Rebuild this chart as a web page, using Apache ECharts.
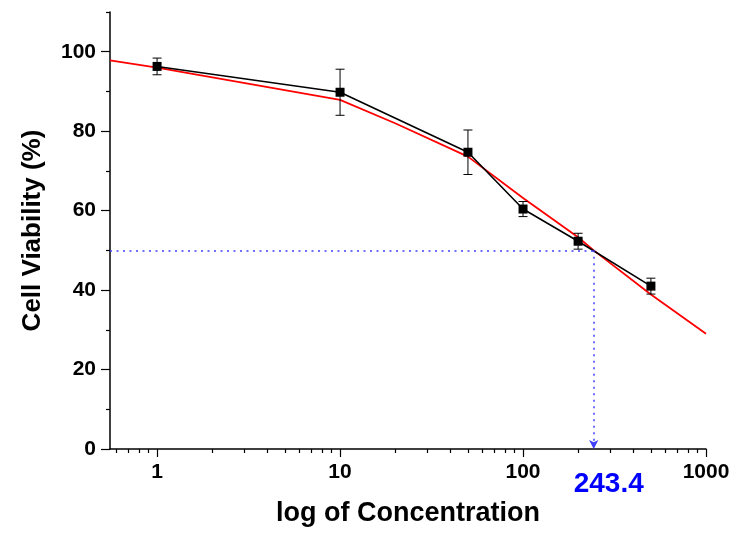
<!DOCTYPE html>
<html>
<head>
<meta charset="utf-8">
<script src="https://cdn.jsdelivr.net/npm/echarts@6/dist/echarts.min.js"></script>
<style>
  html, body { margin: 0; padding: 0; background: #fff; }
  #chart { width: 737px; height: 538px; }
</style>
</head>
<body>
<div id="chart"></div>
<script>
// measured points (mean ± sd)
const concentrations = [1, 10, 50, 100, 200, 500];
const viability = [96.3, 89.8, 74.7, 60.4, 52.3, 41.0];
const viabilitySd = [2.1, 5.8, 5.6, 1.9, 2.0, 2.0];

// fitted dose-response curve
const fitX = [0.553, 1, 10, 20, 50, 100, 200, 243.4, 500, 1000];
const fitY = [97.8, 96.0, 87.9, 82.0, 73.6, 63.2, 53.3, 50.0, 38.9, 29.0];

// axis ticks
const xMajorTicks = [1, 10, 100, 1000];
const xMinorTicks = [0.6, 0.7, 0.8, 0.9, 2, 3, 4, 5, 6, 7, 8, 9,
  20, 30, 40, 50, 60, 70, 80, 90, 200, 300, 400, 500, 600, 700, 800, 900];
const yMajorTicks = [0, 20, 40, 60, 80, 100];
const yMinorTicks = [10, 30, 50, 70, 90, 110];

const X_MIN = 0.553;
const X_MAX = 1000;
const IC50 = 243.4;
const HALF = 50;

const lg = (v) => Math.log10(v);
const FONT = '"Liberation Sans", Arial, sans-serif';
const BLUE_DOT = '#4040ff';

const chart = echarts.init(document.getElementById('chart'), null, { renderer: 'canvas' });

const xBase = {
  type: 'value',
  min: lg(X_MIN),
  max: lg(X_MAX),
  position: 'bottom',
  splitLine: { show: false },
  axisLine: { onZero: false, lineStyle: { color: '#000', width: 1.5 } },
};
const yBase = {
  type: 'value',
  min: 0,
  max: 110,
  position: 'left',
  splitLine: { show: false },
  axisLine: { onZero: false, lineStyle: { color: '#000', width: 1.5 } },
};

chart.setOption({
  animation: false,
  backgroundColor: '#fff',
  grid: { left: 110, right: 31, top: 12, bottom: 89, containLabel: false },
  xAxis: [
    {
      ...xBase,
      name: 'log of Concentration',
      nameLocation: 'middle',
      nameGap: 51,
      nameTextStyle: { color: '#000', fontSize: 27, fontWeight: 'bold', fontFamily: FONT },
      axisTick: { length: 8, lineStyle: { color: '#000', width: 1.2 }, customValues: xMajorTicks.map(lg) },
      axisLabel: {
        customValues: xMajorTicks.map(lg),
        formatter: (v) => String(Math.round(Math.pow(10, v))),
        margin: 13,
        color: '#000',
        fontSize: 21,
        fontWeight: 'bold',
        fontFamily: FONT,
      },
    },
    {
      ...xBase,
      axisLine: { show: false, onZero: false },
      axisTick: { length: 4, lineStyle: { color: '#000', width: 1.2 }, customValues: xMinorTicks.map(lg) },
      axisLabel: { show: false },
    },
  ],
  yAxis: [
    {
      ...yBase,
      name: 'Cell Viability (%)',
      nameLocation: 'middle',
      nameGap: 64,
      nameRotate: 90,
      nameTextStyle: { color: '#000', fontSize: 26, fontWeight: 'bold', fontFamily: FONT },
      axisTick: { length: 9, lineStyle: { color: '#000', width: 1.2 }, customValues: yMajorTicks },
      axisLabel: {
        customValues: yMajorTicks,
        margin: 14,
        color: '#000',
        fontSize: 21,
        fontWeight: 'bold',
        fontFamily: FONT,
      },
    },
    {
      ...yBase,
      axisLine: { show: false, onZero: false },
      axisTick: { length: 4, lineStyle: { color: '#000', width: 1.2 }, customValues: yMinorTicks },
      axisLabel: { show: false },
    },
  ],
  series: [
    {
      name: 'fit',
      type: 'line',
      data: fitX.map((x, i) => [lg(x), fitY[i]]),
      symbol: 'none',
      lineStyle: { color: '#ff0000', width: 1.8 },
      z: 2,
    },
    {
      name: 'error',
      type: 'custom',
      data: concentrations.map((c, i) => [lg(c), viability[i], viabilitySd[i]]),
      renderItem: (params, api) => {
        const x = api.value(0);
        const y = api.value(1);
        const sd = api.value(2);
        const top = api.coord([x, y + sd]);
        const bot = api.coord([x, y - sd]);
        const w = 4.5;
        const style = { stroke: '#000', lineWidth: 1 };
        return {
          type: 'group',
          children: [
            { type: 'line', shape: { x1: top[0], y1: top[1], x2: bot[0], y2: bot[1] }, style },
            { type: 'line', shape: { x1: top[0] - w, y1: top[1], x2: top[0] + w, y2: top[1] }, style },
            { type: 'line', shape: { x1: bot[0] - w, y1: bot[1], x2: bot[0] + w, y2: bot[1] }, style },
          ],
        };
      },
      z: 3,
    },
    {
      name: 'mean',
      type: 'line',
      data: concentrations.map((c, i) => [lg(c), viability[i]]),
      symbol: 'rect',
      symbolSize: 9,
      itemStyle: { color: '#000' },
      lineStyle: { color: '#000', width: 1.6 },
      z: 4,
    },
    {
      // IC50 marker: dotted guide lines + label under the axis
      name: 'ic50',
      type: 'scatter',
      data: [[lg(IC50), 0]],
      symbolSize: 0,
      silent: true,
      itemStyle: { opacity: 1 },
      label: {
        show: true,
        position: 'bottom',
        distance: 21,
        offset: [15, 0],
        formatter: String(IC50),
        color: '#0000ff',
        fontSize: 28,
        fontWeight: 'bold',
        fontFamily: FONT,
      },
      markLine: {
        silent: true,
        symbol: ['none', 'none'],
        label: { show: false },
        lineStyle: { color: BLUE_DOT, width: 1.5, type: [2, 4.5] },
        data: [
          [{ coord: [lg(X_MIN), HALF] }, { coord: [lg(IC50), HALF] }],
          [{ coord: [lg(IC50), HALF] }, { coord: [lg(IC50), 0], symbol: 'arrow', symbolSize: [7, 9] }],
        ],
      },
      z: 1,
    },
  ],
});
</script>
</body>
</html>
